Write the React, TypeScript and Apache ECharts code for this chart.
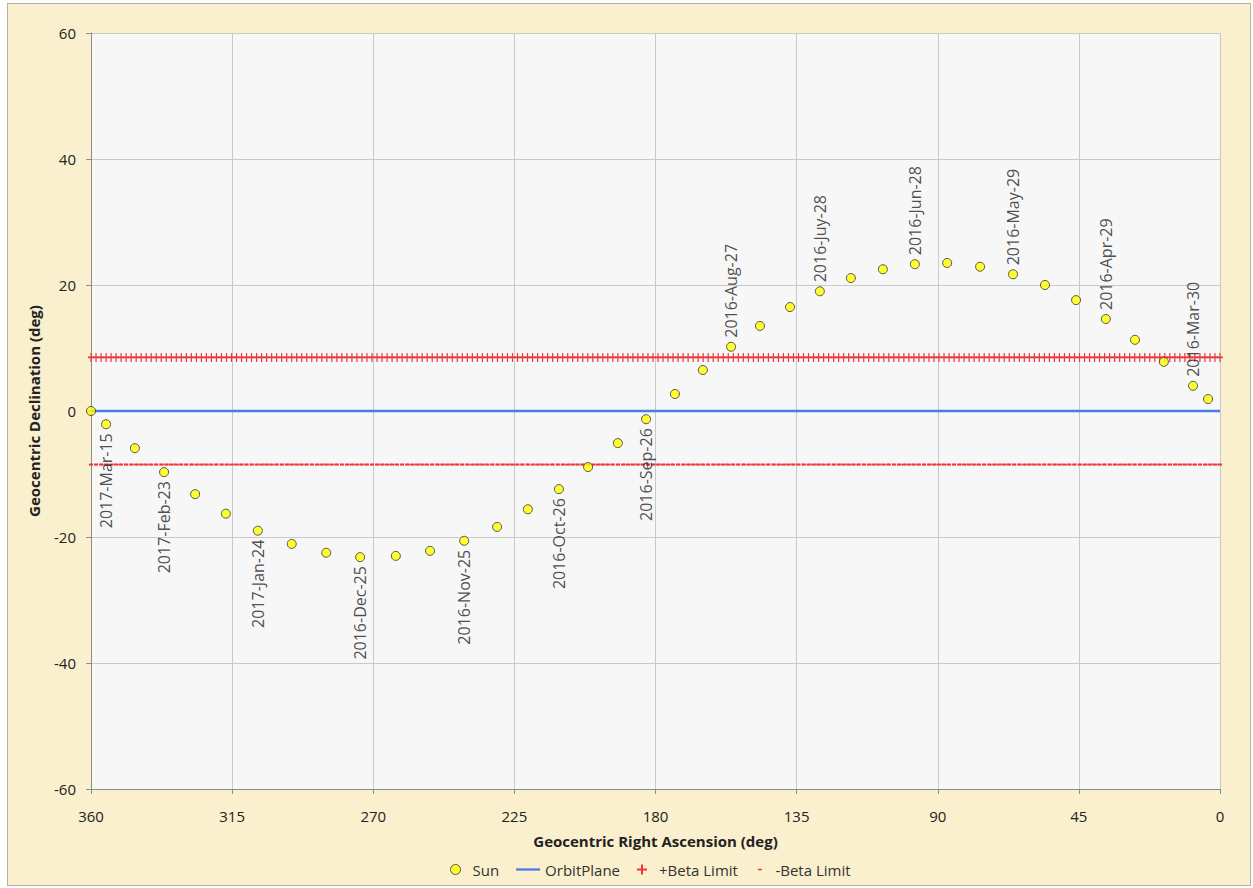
import React, { useEffect, useRef } from "react";
import * as echarts from "echarts";

// Sun geocentric positions (RA deg, Dec deg)
const sunRA = [360, 355.2, 346, 336.7, 326.8, 317, 306.8, 296, 285, 274.2, 262.8, 251.9, 241, 230.5, 220.7, 210.8, 201.5, 192, 183, 173.8, 164.9, 155.9, 146.7, 137.1, 127.6, 117.7, 107.5, 97.3, 87, 76.5, 66, 55.8, 45.9, 36.4, 27.1, 17.9, 8.6, 3.8];
const sunDec = [0, -2.1, -5.9, -9.7, -13.2, -16.3, -19.0, -21.1, -22.5, -23.2, -23.0, -22.2, -20.6, -18.4, -15.6, -12.4, -8.9, -5.1, -1.3, 2.7, 6.5, 10.2, 13.5, 16.5, 19.0, 21.1, 22.5, 23.3, 23.5, 22.9, 21.7, 20.0, 17.6, 14.6, 11.3, 7.8, 4.0, 1.9];
const sunLabels = ["", "2017-Mar-15", "", "2017-Feb-23", "", "", "2017-Jan-24", "", "", "2016-Dec-25", "", "", "2016-Nov-25", "", "", "2016-Oct-26", "", "", "2016-Sep-26", "", "", "2016-Aug-27", "", "", "2016-Juy-28", "", "", "2016-Jun-28", "", "", "2016-May-29", "", "", "2016-Apr-29", "", "", "2016-Mar-30", ""];

const orbitRA = [0, 360];
const orbitDec = [0, 0];

const betaPlus = 8.5;
const betaMinus = -8.5;
const betaStep = 1.6;

const xTicks = { min: 0, max: 360, interval: 45 };
const yTicks = { min: -60, max: 60, interval: 20 };

const FONT = "'Open Sans', sans-serif";

export default function App() {
  const ref = useRef<HTMLDivElement>(null);
  useEffect(() => {
    if (!ref.current) return;
    const chart = echarts.init(ref.current, undefined, { renderer: "svg" });

    const betaRA: number[] = [];
    for (let ra = 0; ra <= 360 + 1e-6; ra += betaStep) betaRA.push(+ra.toFixed(3));

    const sunData = sunRA.map((ra, i) => {
      const lbl = sunLabels[i];
      const neg = sunDec[i] < 0;
      return {
        value: [ra, sunDec[i]],
        label: lbl
          ? {
              show: true,
              formatter: lbl,
              position: neg ? "bottom" : "top",
              distance: 4,
              rotate: 90,
              align: neg ? "right" : "left",
              verticalAlign: "middle",
              color: "#222",
              fontFamily: FONT,
              fontSize: 16,
            }
          : { show: false },
      };
    });

    const plusPath = "path://M4,0h2v10h-2z M0,4h10v2h-10z";
    const dashPath = "path://M0,0h10v3h-10z";
    const dashIcon = "path://M3,4.2h4v1.6h-4z M0,0h0.01v10h-0.01z";
    const plusIcon = "path://M4.3,1.5h1.4v7h-1.4z M1.5,4.3h7v1.4h-7z";
    const linePath = "path://M0,0h26v2.5h-26z";

    chart.setOption({
      animation: false,
      backgroundColor: "transparent",
      textStyle: { fontFamily: FONT },
      grid: {
        left: 83,
        right: 30,
        top: 29,
        bottom: 96,
        show: true,
        backgroundColor: "#F7F7F7",
        borderWidth: 0,
      },
      legend: {
        top: 853,
        left: 437,
        itemGap: 17,
        itemWidth: 24,
        itemHeight: 10,
        textStyle: { fontFamily: FONT, fontSize: 15, color: "#333" },
        data: [
          { name: "Sun", icon: "circle", itemStyle: { color: "#FFFF00", borderColor: "#333", borderWidth: 1 } },
          { name: "OrbitPlane", icon: linePath, itemStyle: { color: "#4A7EE0" } },
          { name: "+Beta Limit", icon: plusIcon, itemStyle: { color: "#E8383C" } },
          { name: "-Beta Limit", icon: dashIcon, itemStyle: { color: "#E8383C" } },
        ],
      },
      xAxis: {
        type: "value",
        inverse: true,
        min: xTicks.min,
        max: xTicks.max,
        interval: xTicks.interval,
        name: "Geocentric Right Ascension (deg)",
        nameLocation: "middle",
        nameGap: 44,
        nameTextStyle: { fontFamily: FONT, fontSize: 15, fontWeight: "bold", color: "#222" },
        axisLine: { show: true, onZero: false, lineStyle: { color: "#8c8c8c", width: 1 } },
        axisTick: { show: true, length: 5, lineStyle: { color: "#8c8c8c" } },
        axisLabel: { fontFamily: FONT, fontSize: 15, color: "#222", margin: 19 },
        splitLine: { show: true, lineStyle: { color: "#C9C9C9", width: 1 } },
      },
      yAxis: {
        type: "value",
        min: yTicks.min,
        max: yTicks.max,
        interval: yTicks.interval,
        name: "Geocentric Declination (deg)",
        nameLocation: "middle",
        nameGap: 50,
        nameTextStyle: { fontFamily: FONT, fontSize: 15, fontWeight: "bold", color: "#222" },
        axisLine: { show: true, onZero: false, lineStyle: { color: "#8c8c8c", width: 1 } },
        axisTick: { show: true, length: 5, lineStyle: { color: "#8c8c8c" } },
        axisLabel: { fontFamily: FONT, fontSize: 15, color: "#222", margin: 15 },
        splitLine: { show: true, lineStyle: { color: "#C9C9C9", width: 1 } },
      },
      series: [
        {
          name: "OrbitPlane",
          type: "line",
          data: orbitRA.map((ra, i) => [ra, orbitDec[i]]),
          symbol: "none",
          lineStyle: { color: "#4A7EE0", width: 2.5 },
          itemStyle: { color: "#4A7EE0" },
          z: 2,
        },
        {
          name: "+Beta Limit",
          type: "line",
          data: betaRA.map((ra) => [ra, betaPlus]),
          symbol: plusPath,
          symbolSize: [6, 9],
          showAllSymbol: true,
          lineStyle: { color: "#E8383C", width: 1.2 },
          itemStyle: { color: "#E8383C" },
          z: 3,
        },
        {
          name: "-Beta Limit",
          type: "line",
          data: betaRA.map((ra) => [ra, betaMinus]),
          symbol: dashPath,
          symbolSize: [4, 2],
          showAllSymbol: true,
          lineStyle: { color: "#E8383C", width: 1.5, type: [4, 2], opacity: 0.7 },
          itemStyle: { color: "#E8383C" },
          z: 3,
        },
        {
          name: "Sun",
          type: "scatter",
          data: sunData,
          symbol: "circle",
          symbolSize: 9,
          itemStyle: { color: "#FFFF00", borderColor: "#333", borderWidth: 1 },
          z: 5,
        },
      ],
    });
    return () => chart.dispose();
  }, []);

  return (
    <div
      style={{
        position: "absolute",
        left: 7,
        top: 3,
        width: 1244,
        height: 883,
        boxSizing: "border-box",
        border: "1px solid #B8B0A0",
        background: "#FAF0CD",
      }}
    >
      <div ref={ref} style={{ width: 1242, height: 881 }} />
    </div>
  );
}
